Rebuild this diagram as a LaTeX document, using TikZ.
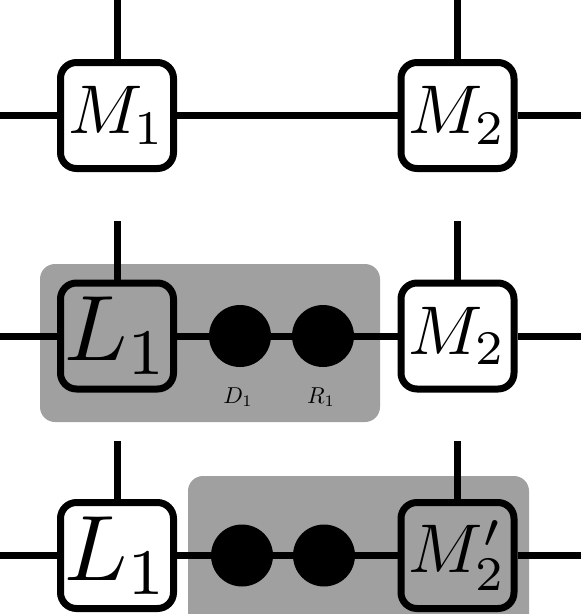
\documentclass[tikz,border=0pt]{standalone}
\usetikzlibrary{positioning}
\definecolor{shade}{HTML}{A0A0A0}
\newcommand{\mtxt}[1]{\scalebox{6.9}{$#1$}}
\newcommand{\ltxt}[1]{\scalebox{9.3}{$#1$}}
\newcommand{\stxt}[1]{\scalebox{2.3}{$#1$}}
\begin{document}
\begin{tikzpicture}[x=1pt,y=-1pt,
  tbox/.style={draw, line width=7pt, rounded corners=16pt, minimum width=113pt, minimum height=106pt, inner sep=0pt},
  dot/.style={circle, fill=black, minimum size=62pt, inner sep=0pt},
  wire/.style={line width=7pt},
  region/.style={fill=shade, rounded corners=15pt},
  small/.style={inner sep=0pt}
]
\useasboundingbox (0,0) rectangle (581,614);
\begin{scope}
\clip (0,0) rectangle (581,614);
% gray regions
\fill[region] (40,264) rectangle (380,422);
\fill[region] (188,476) rectangle (529,640);
\end{scope}

% row 1
\node[tbox, fill=white] (m1) at (117,115.5) {\mtxt{M_1}};
\node[tbox, fill=white] (m2) at (457.5,115.5) {\mtxt{M_2}};
\coordinate (a1) at (0,115.5);
\coordinate (b1) at (581,115.5);
\coordinate (t1) at (117,0);
\coordinate (t2) at (457.5,0);
\draw[wire] (a1) -- (m1);
\draw[wire] (m1) -- (m2);
\draw[wire] (m2) -- (b1);
\draw[wire] (t1) -- (m1);
\draw[wire] (t2) -- (m2);

% row 2
\node[tbox] (l1) at (117,336) {\ltxt{L_1}};
\node[dot] (d1) at (240,336) {};
\node[dot] (r1) at (323,336) {};
\node[tbox, fill=white] (m2b) at (457.5,336) {\mtxt{M_2}};
\node[small] (d1l) at (238,397) {\stxt{D_1}};
\node[small] (r1l) at (321,397) {\stxt{R_1}};
\coordinate (a2) at (0,336);
\coordinate (b2) at (581,336);
\coordinate (t3) at (117,221);
\coordinate (t4) at (457.5,221);
\draw[wire] (a2) -- (l1);
\draw[wire] (l1) -- (d1);
\draw[wire] (d1) -- (r1);
\draw[wire] (r1) -- (m2b);
\draw[wire] (m2b) -- (b2);
\draw[wire] (t3) -- (l1);
\draw[wire] (t4) -- (m2b);

% row 3
\node[tbox, fill=white] (l1c) at (117,555.5) {\ltxt{L_1}};
\node[dot] (d2) at (242,555.5) {};
\node[dot] (r2) at (324,555.5) {};
\node[tbox] (m2c) at (457.5,555.5) {\mtxt{M_2'}};
\coordinate (a3) at (0,555.5);
\coordinate (b3) at (581,555.5);
\coordinate (t5) at (117,441);
\coordinate (t6) at (457.5,441);
\draw[wire] (a3) -- (l1c);
\draw[wire] (l1c) -- (d2);
\draw[wire] (d2) -- (r2);
\draw[wire] (r2) -- (m2c);
\draw[wire] (m2c) -- (b3);
\draw[wire] (t5) -- (l1c);
\draw[wire] (t6) -- (m2c);
\end{tikzpicture}
\end{document}
